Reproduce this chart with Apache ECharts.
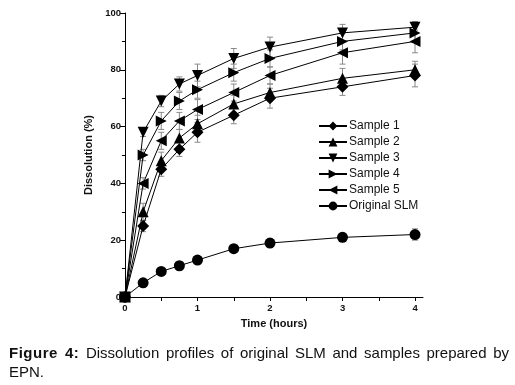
<!DOCTYPE html>
<html><head><meta charset="utf-8">
<script src="https://cdn.jsdelivr.net/npm/echarts@6/dist/echarts.min.js"></script>
<style>
html,body{margin:0;padding:0;background:#fff;}
#c{position:absolute;left:0;top:0;width:515px;height:385px;}
.cap{position:absolute;left:9px;width:500px;font-family:"Liberation Sans",Arial,sans-serif;font-size:15px;line-height:19px;color:#111;white-space:nowrap;}
.cap b{letter-spacing:0.5px;}
#cap1{top:343px;text-align:justify;text-align-last:justify;}
#cap2{top:362px;text-align:left;}
</style></head>
<body>
<div id="c"></div>
<div class="cap" id="cap1"><b>Figure 4:</b> Dissolution profiles of original SLM and samples prepared by</div>
<div class="cap" id="cap2">EPN.</div>
<script>
const times = [0, 0.25, 0.5, 0.75, 1, 1.5, 2, 3, 4];
const seriesNames = ['Sample 1', 'Sample 2', 'Sample 3', 'Sample 4', 'Sample 5', 'Original SLM'];
const sample1 = [0, 25, 45, 52, 58, 64, 70, 74, 78];
const sample2 = [0, 30, 48, 56, 61, 68, 72, 77, 80];
const sample3 = [0, 58, 69, 75, 78, 84, 88, 93, 95];
const sample4 = [0, 50, 62, 69, 73, 79, 84, 90, 93];
const sample5 = [0, 40, 55, 62, 66, 72, 78, 86, 90];
const originalSLM = [0, 5, 9, 11, 13, 17, 19, 21, 22];
const err1 = [0, 2, 2.5, 2.5, 3.5, 3, 3.5, 3, 4];
const err2 = [0, 3, 3, 3, 3, 3, 3, 3.5, 3];
const err3 = [0, 1.5, 2, 2.5, 4, 3.5, 3.5, 3, 2];
const err4 = [0, 2, 3, 3, 3, 3, 3, 3, 3];
const err5 = [0, 2, 3, 3, 3.5, 3, 3, 4, 4];
const errSLM = [0, 1, 1, 1.5, 1, 1, 1.5, 1.5, 2];
const xTickLabels = [0, 1, 2, 3, 4];
const xTicks = [0, 0.5, 1, 1.5, 2, 2.5, 3, 3.5, 4];

const values = [sample1, sample2, sample3, sample4, sample5, originalSLM];
const errs = [err1, err2, err3, err4, err5, errSLM];
const symbols = ['diamond', 'triangle', 'triangle', 'triangle', 'triangle', 'circle'];
const rotates = [0, 0, 180, -90, 90, 0];
const sizes = [12, 11, 11, 11, 11, 11];

const series = [];
values.forEach((vals, i) => {
  series.push({
    name: seriesNames[i] + ' err',
    type: 'custom',
    silent: true,
    z: 1,
    data: vals.map((v, k) => [times[k], v - errs[i][k], v + errs[i][k]]).filter((d, k) => errs[i][k] > 0),
    renderItem: function (params, api) {
      const lo = api.coord([api.value(0), api.value(1)]);
      const hi = api.coord([api.value(0), api.value(2)]);
      const w = 3;
      const st = { stroke: '#8a8a8a', lineWidth: 1 };
      return { type: 'group', children: [
        { type: 'line', shape: { x1: lo[0], y1: lo[1], x2: hi[0], y2: hi[1] }, style: st },
        { type: 'line', shape: { x1: lo[0] - w, y1: lo[1], x2: lo[0] + w, y2: lo[1] }, style: st },
        { type: 'line', shape: { x1: hi[0] - w, y1: hi[1], x2: hi[0] + w, y2: hi[1] }, style: st }
      ]};
    }
  });
});
values.forEach((vals, i) => {
  series.push({
    name: seriesNames[i],
    type: 'line',
    z: 3,
    data: vals.map((v, k) => [times[k], v]),
    symbol: symbols[i],
    symbolRotate: rotates[i],
    symbolSize: sizes[i],
    showAllSymbol: true,
    lineStyle: { color: '#000', width: 1 },
    itemStyle: { color: '#000' },
    animation: false
  });
});

const chart = echarts.init(document.getElementById('c'));
chart.setOption({
  animation: false,
  grid: { left: 125, right: 92, top: 13, bottom: 88 },
  legend: {
    data: seriesNames,
    orient: 'vertical',
    left: 313,
    top: 115,
    itemWidth: 28,
    itemHeight: 11,
    itemGap: 4,
    textStyle: { fontFamily: 'Liberation Sans, Arial', fontSize: 12, color: '#111', padding: [0, 0, 0, -3] }
  },
  xAxis: {
    type: 'value',
    min: 0,
    max: 4.11,
    name: 'Time (hours)',
    nameLocation: 'middle',
    nameGap: 21,
    nameTextStyle: { fontFamily: 'Liberation Sans, Arial', fontWeight: 'bold', fontSize: 11, color: '#111' },
    splitLine: { show: false },
    axisLine: { lineStyle: { color: '#000', width: 1 } },
    axisTick: { customValues: xTicks, length: 4, lineStyle: { color: '#000' } },
    axisLabel: { customValues: xTickLabels, fontFamily: 'Liberation Sans, Arial', fontWeight: 'bold', fontSize: 9.5, color: '#111', margin: 6 }
  },
  yAxis: {
    type: 'value',
    min: 0,
    max: 100,
    interval: 20,
    name: 'Dissolution (%)',
    nameLocation: 'middle',
    nameGap: 29,
    nameTextStyle: { fontFamily: 'Liberation Sans, Arial', fontWeight: 'bold', fontSize: 11, color: '#111' },
    splitLine: { show: false },
    axisLine: { show: true, lineStyle: { color: '#000', width: 1 } },
    axisTick: { show: true, length: 5, lineStyle: { color: '#000' } },
    minorTick: { show: true, splitNumber: 2, length: 3, lineStyle: { color: '#000' } },
    axisLabel: { fontFamily: 'Liberation Sans, Arial', fontWeight: 'bold', fontSize: 9.5, color: '#111', margin: 4 }
  },
  series: series
});
</script>
</body></html>
